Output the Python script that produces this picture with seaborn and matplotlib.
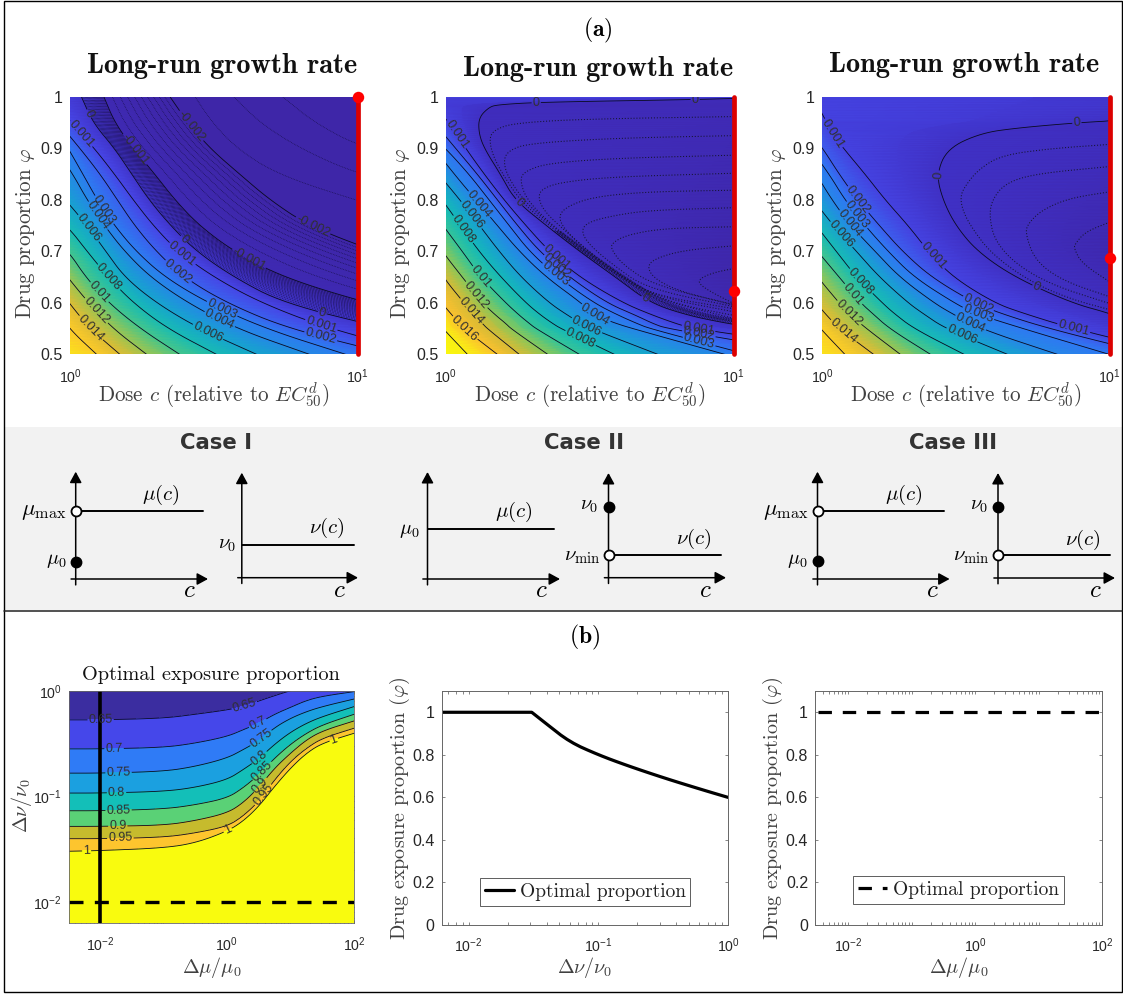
import numpy as np
import matplotlib
matplotlib.use('Agg')
import matplotlib.pyplot as plt
from matplotlib.colors import LinearSegmentedColormap, ListedColormap, BoundaryNorm
from matplotlib.patches import Rectangle
from matplotlib.ticker import FixedLocator, LogLocator, NullFormatter
import seaborn as sns

W, H = 1123, 994

# parula-like colours
parula_stops = [0, .06, .13, .22, .33, .44, .55, .66, .77, .88, 1]
parula_colors = ['#3e26a8', '#4030c4', '#4748e8', '#2f79f3', '#1e96dc', '#10b5c0', '#25c4a5', '#82c95e', '#d6bc36', '#fdc22f', '#f9fb0e']
band_colors = ['#3b2da0', '#4547ea', '#2f7bf6', '#1ba0e0', '#13bfb8', '#5ad176', '#c6bb2d', '#fdc52e', '#f9fb0e']

# ---- panel 1: log10(dose) of each level curve, rows are drug proportion
p1_phi = [1, .95, .9, .85, .8, .75, .7, .65, .6, .55, .5]
p1_020 = [-1.2, -1.1, -1.0, -.9, -.8, -.7, -.6, -.5, -.4, -.3, -.1]
p1_016 = [-.92, -.79, -.67, -.55, -.43, -.32, -.22, -.14, -.065, -.003, .093]
p1_014 = [-.85, -.72, -.6, -.48, -.36, -.25, -.15, -.07, -.003, .07, .174]
p1_012 = [-.78, -.65, -.53, -.41, -.29, -.18, -.08, -.008, .065, .15, .267]
p1_010 = [-.7, -.57, -.45, -.33, -.21, -.1, -.005, .055, .135, .245, .382]
p1_008 = [-.6, -.48, -.36, -.24, -.12, -.01, .06, .133, .22, .34, .51]
p1_006 = [-.5, -.36, -.22, -.1, -.015, .06, .125, .19, .30, .45, .65]
p1_004 = [-.2, -.12, -.05, .01, .06, .12, .19, .28, .41, .58, .834]
p1_003 = [-.12, -.06, -.006, .045, .095, .155, .23, .33, .48, .68, .96]
p1_002 = [-.12, -.04, .035, .105, .165, .225, .30, .395, .545, .76, 1.12]
p1_001 = [-.07, .005, .085, .155, .22, .29, .375, .50, .665, .90, 1.25]
p1_000 = [.04, .08, .155, .215, .275, .35, .44, .57, .74, 1.1, 1.5]
p1_m1 = [.118, .156, .22, .295, .365, .45, .57, .74, 1.03, 1.4, 1.8]
p1_m2 = [.348, .41, .487, .59, .695, .83, 1.06, 1.35, 1.7, 2.1, 2.5]
p1_m25 = [.435, .495, .58, .72, .99, 1.3, 1.7, 2.1, 2.5, 2.9, 3.3]
p1_m30 = [.57, .66, .80, 1.0, 1.35, 1.8, 2.2, 2.6, 3.0, 3.4, 3.8]
p1_m35 = [.74, .85, 1.02, 1.4, 1.85, 2.3, 2.7, 3.1, 3.5, 3.9, 4.3]
p1_m60 = [2.0, 2.2, 2.5, 2.8, 3.2, 3.6, 4.0, 4.4, 4.8, 5.2, 5.6]
p1_curves = [p1_020, p1_016, p1_014, p1_012, p1_010, p1_008, p1_006, p1_004, p1_003, p1_002, p1_001, p1_000, p1_m1, p1_m2, p1_m25, p1_m30, p1_m35, p1_m60]
p1_levels = [.02, .016, .014, .012, .01, .008, .006, .004, .003, .002, .001, 0, -.001, -.002, -.0025, -.003, -.0035, -.006]
p1_solid = [-.002, -.001, 0, .001, .002, .003, .004, .006, .008, .01, .012, .014, .016]
p1_dotted = [-.0035, -.003, -.0025, -.0019, -.0018, -.0017, -.0016, -.0015, -.0014, -.0013, -.0012, -.0011] + [-.00095, -.0009, -.00085, -.0008, -.00075, -.0007, -.00065, -.0006, -.00055, -.0005, -.00045, -.0004, -.00035, -.0003, -.00025, -.0002, -.00015, -.0001, -.00005]
p1_label_u = [.06, .392, .875, .04, .382, .869, .377, .869, .116, .527, .098, .51, .064, .477, .133, .104, .093, .07, .22, .62, .417, .84]
p1_label_phi = [.966, .722, .578, .929, .69, .55, .662, .531, .78, .576, .77, .567, .745, .541, .649, .622, .586, .55, .896, .684, .942, .745]
p1_opt = .9995

# ---- panel 2
p2_phi = [.5, .55, .56, .576, .6, .65, .7, .75, .8, .85, .9, .93, .96, .98, .985, .99, .995, .998, 1]
p2_020 = [-.03, -.1, -.12, -.14, -.16, -.22, -.28, -.33, -.38, -.43, -.5, -.54, -.58, -.62, -.63, -.64, -.65, -.66, -.66]
p2_018 = [.076, -.009, -.021, -.023, -.047, -.087, -.134, -.186, -.238, -.297, -.349, -.39, -.44, -.48, -.49, -.5, -.51, -.515, -.52]
p2_016 = [.18, .064, .047, .023, -.014, -.052, -.099, -.151, -.203, -.262, -.314, -.36, -.41, -.45, -.46, -.47, -.48, -.485, -.49]
p2_014 = [.256, .145, .128, .099, .064, -.009, -.058, -.11, -.163, -.221, -.273, -.32, -.37, -.41, -.42, -.43, -.44, -.445, -.45]
p2_012 = [.355, .227, .209, .174, .128, .058, -.012, -.064, -.116, -.174, -.233, -.28, -.33, -.37, -.38, -.39, -.40, -.405, -.41]
p2_010 = [.465, .314, .291, .256, .209, .122, .058, -.009, -.07, -.128, -.186, -.23, -.28, -.32, -.33, -.34, -.35, -.355, -.36]
p2_008 = [.587, .401, .372, .331, .279, .192, .116, .052, -.012, -.078, -.14, -.19, -.24, -.28, -.29, -.3, -.31, -.315, -.32]
p2_006 = [.738, .506, .471, .424, .36, .262, .186, .118, .05, -.025, -.093, -.14, -.19, -.23, -.24, -.25, -.26, -.265, -.27]
p2_004 = [.971, .651, .593, .517, .471, .349, .256, .18, .105, .03, -.04, -.09, -.14, -.18, -.19, -.2, -.21, -.215, -.22]
p2_003 = [1.05, .71, .665, .60, .515, .39, .291, .221, .151, .081, 0, -.06, -.11, -.15, -.16, -.17, -.18, -.185, -.19]
p2_002 = [1.3, .77, .72, .66, .56, .43, .326, .25, .18, .11, .035, -.01, -.06, -.1, -.11, -.12, -.13, -.135, -.14]
p2_001 = [1.5, .86, .80, .72, .616, .465, .36, .279, .203, .134, .07, .035, -.002, -.04, -.05, -.06, -.07, -.075, -.08]
p2_000 = [1.9, 1.1, .98, .84, .71, .59, .465, .35, .24, .19, .134, .115, .115, .15, .18, .33, .866, 1.05, 1.3]
p2_edge = [2.3, 1.3, 1.12, .93, .775, .63, .50, .375, .26, .195, .139, .12, .12, .155, .19, .36, .9, 1.1, 1.35]
p2_end = [2.6, 1.7, 1.5, 1.2, 1.1, 1.05, 1.1, 1.2, 1.4, 1.6, 1.8, 1.9, 2, 2, 2, 2, 2, 2, 2]
p2_curves = [p2_020, p2_018, p2_016, p2_014, p2_012, p2_010, p2_008, p2_006, p2_004, p2_003, p2_002, p2_001, p2_000, p2_edge, p2_end]
p2_levels = [.02, .018, .016, .014, .012, .01, .008, .006, .004, .003, .002, .001, 0, -.0002, -.0015]
p2_solid = [0, .001, .002, .003, .004, .006, .008, .01, .012, .014, .016, .018]
p2_dotted = [-.00018, -.00016, -.00014, -.00012, -.0001, -.00008, -.00006, -.00004, -.00002]
p2_label_u = [.314, .866, .25, .692, .041, .384, .878, .384, .878, .378, .878, .113, .517, .081, .488, .058, .465, .122, .105, .087, .064]
p2_label_phi = [.99, .995, .793, .608, .929, .687, .552, .67, .538, .654, .521, .79, .576, .767, .554, .742, .528, .651, .615, .583, .55]
p2_opt = .623

# dotted inner contours of panel 2 (log10 dose, proportion)
p2_d1_u = [1, .465, .233, .169, .151, .163, .203, .267, .372, .488, .605, .721, .849, 1]
p2_d1_phi = [.962, .957, .949, .936, .920, .887, .845, .793, .745, .693, .651, .609, .580, .564]
p2_d2_u = [1, .581, .291, .221, .2, .215, .279, .395, .512, .628, .744, 1]
p2_d2_phi = [.925, .920, .910, .897, .878, .845, .793, .738, .687, .644, .606, .570]
p2_d3_u = [1, .581, .349, .273, .258, .279, .349, .465, .581, .698, .814, 1]
p2_d3_phi = [.887, .881, .871, .855, .839, .803, .761, .709, .664, .622, .596, .576]
p2_d4_u = [1, .581, .407, .337, .320, .343, .419, .523, .640, .756, 1]
p2_d4_phi = [.852, .845, .835, .823, .806, .777, .738, .687, .641, .609, .583]
p2_d5_u = [1, .698, .512, .419, .390, .419, .5, .605, .721, 1]
p2_d5_phi = [.819, .816, .806, .787, .767, .738, .699, .654, .615, .589]
p2_d6_u = [1, .698, .558, .488, .471, .5, .581, .698, 1]
p2_d6_phi = [.785, .780, .767, .755, .738, .712, .674, .628, .593]
p2_d7_u = [1, .756, .628, .576, .576, .616, .721, 1]
p2_d7_phi = [.748, .745, .732, .716, .703, .674, .635, .596]
p2_d8_u = [1, .837, .744, .698, .721, .814, 1]
p2_d8_phi = [.711, .703, .690, .674, .648, .622, .597]
p2_d9_u = [1, .93, .884, .878, .919, 1]
p2_d9_phi = [.667, .659, .648, .638, .622, .599]

# ---- panel 3
p3_phi = [.5, .55, .58, .6, .65, .7, .75, .8, .85, .9, .93, .94, .95, .955, 1]
p3_020 = [-.1, -.2, -.26, -.28, -.35, -.41, -.47, -.54, -.62, -.69, -.73, -.74, -.75, -.76, -.86]
p3_016 = [.08, -.005, -.05, -.08, -.15, -.21, -.27, -.34, -.42, -.49, -.53, -.54, -.55, -.56, -.66]
p3_014 = [.18, .06, .01, -.02, -.085, -.15, -.21, -.28, -.36, -.43, -.47, -.485, -.5, -.51, -.61]
p3_012 = [.273, .155, .092, .06, -.015, -.08, -.15, -.22, -.3, -.37, -.41, -.425, -.44, -.45, -.55]
p3_010 = [.378, .235, .175, .135, .06, -.015, -.09, -.16, -.24, -.31, -.35, -.365, -.38, -.39, -.49]
p3_008 = [.495, .32, .25, .21, .12, .05, -.02, -.09, -.17, -.24, -.28, -.295, -.31, -.32, -.42]
p3_006 = [.646, .43, .35, .30, .20, .12, .04, -.03, -.10, -.17, -.21, -.225, -.24, -.25, -.35]
p3_004 = [.82, .55, .45, .39, .27, .185, .10, .035, -.02, -.08, -.12, -.135, -.15, -.16, -.25]
p3_003 = [1.0, .7, .53, .46, .32, .23, .15, .08, .025, -.04, -.08, -.095, -.11, -.12, -.2]
p3_002 = [1.15, .79, .62, .53, .38, .28, .20, .124, .06, .003, -.04, -.055, -.07, -.08, -.15]
p3_001 = [1.25, .874, .70, .60, .455, .37, .30, .22, .15, .075, .035, .025, .018, .012, -.03]
p3_000 = [1.4, 1.15, 1.0, .868, .67, .54, .465, .42, .398, .436, .553, .68, .886, 1.05, 1.5]
p3_end = [2.2, 1.8, 1.6, 1.5, 1.3, 1.12, 1.2, 1.4, 1.7, 2.0, 2.2, 2.3, 2.4, 2.4, 2.6]
p3_curves = [p3_020, p3_016, p3_014, p3_012, p3_010, p3_008, p3_006, p3_004, p3_003, p3_002, p3_001, p3_000, p3_end]
p3_levels = [.02, .016, .014, .012, .01, .008, .006, .004, .003, .002, .001, 0, -.0012]
p3_solid = [0, .001, .002, .003, .004, .006, .008, .01, .012, .014, .016]
p3_label_u = [.886, .398, .743, .037, .384, .874, .124, .541, .119, .541, .096, .516, .065, .485, .133, .104, .092, .071]
p3_label_phi = [.948, .849, .628, .929, .69, .55, .8, .596, .77, .576, .754, .561, .732, .536, .641, .615, .58, .543]
p3_opt = .688

p3_d1_u = [1, .798, .623, .541, .495, .481, .489, .518, .588, .716, .856, 1]
p3_d1_phi = [.908, .900, .887, .858, .825, .806, .780, .748, .696, .644, .609, .587]
p3_d2_u = [1, .740, .635, .590, .582, .600, .670, .798, 1]
p3_d2_phi = [.865, .851, .832, .799, .767, .722, .677, .635, .599]
p3_d3_u = [1, .856, .763, .716, .707, .740, .833, 1]
p3_d3_phi = [.816, .803, .780, .754, .735, .683, .644, .612]
p3_d4_u = [1, .915, .880, .876, .903, 1]
p3_d4_phi = [.757, .738, .715, .706, .677, .641]

# ---- panel b, contour map: log10(dnu/nu0) per log10(dmu/mu0) column
b_logx = [-2.487, -2, -1, -.5, 0, .25, .5, .75, 1, 1.25, 1.5, 2]
b_top = [.3] * 12
b_065 = [-.274, -.274, -.259, -.221, -.18, -.148, -.095, -.044, .003, .04, .06, .095]
b_070 = [-.549, -.549, -.536, -.495, -.432, -.369, -.306, -.22, -.155, -.09, -.05, -.006]
b_075 = [-.779, -.779, -.763, -.716, -.637, -.558, -.473, -.347, -.259, -.196, -.148, -.076]
b_080 = [-.968, -.968, -.953, -.915, -.842, -.748, -.644, -.505, -.391, -.306, -.243, -.148]
b_085 = [-1.136, -1.136, -1.12, -1.08, -1.016, -.921, -.795, -.637, -.505, -.401, -.322, -.221]
b_090 = [-1.284, -1.284, -1.274, -1.23, -1.158, -1.063, -.915, -.732, -.59, -.464, -.379, -.284]
b_095 = [-1.401, -1.401, -1.388, -1.347, -1.284, -1.189, -1.047, -.842, -.669, -.543, -.448, -.353]
b_100 = [-1.52, -1.514, -1.489, -1.442, -1.331, -1.237, -1.095, -.905, -.732, -.59, -.495, -.401]
b_low = [-3] * 12
b_curves = [b_top, b_065, b_070, b_075, b_080, b_085, b_090, b_095, b_100, b_low]
b_levels = [.5, .65, .7, .75, .8, .85, .9, .95, 1, 1.2]
b_label_x = [-1.99, .28, -1.78, .49, -1.71, .54, -1.74, .52, -1.71, .54, -1.72, .52, -1.68, .58, -2.21, .02, 1.7]
b_label_y = [-.284, -.148, -.552, -.315, -.779, -.45, -.978, -.64, -1.142, -.75, -1.284, -.89, -1.404, -.99, -1.52, -1.331, -.495]
b_line_dnu = [.01, .01]
b_line_dmu = [.01, .01]

# ---- panel b, optimal proportion curves
opt_logdnu = [-2.208, -1.513, -1.513, -1.403, -1.22, -1.0, -.78, -.487, -.194, 0]
opt_phi_solid = [1, 1, 1, .947, .86, .80, .75, .69, .635, .60]
opt_dmu = [.0033, 100]
opt_phi_dash = [1, 1]

# ---- schematics: level of the line and of the filled dot on a 0..1 axis
sketch_line = [.638, .315, .464, .214, .638, .217]
sketch_dot = [.162, None, None, .674, .168, .674]
sketch_open = [True, False, False, True, True, True]
sketch_end = [.96, .963, .952, .96, .96, .96]

sns.set_theme(style='white')
plt.rcParams['font.family'] = ['Liberation Sans', 'DejaVu Sans']
plt.rcParams['mathtext.fontset'] = 'cm'
plt.rcParams['axes.unicode_minus'] = False

parula = LinearSegmentedColormap.from_list('parula', list(zip(parula_stops, parula_colors)))
tick_color = '#262626'
label_color = '#404040'

fig = plt.figure(figsize=(W / 100, H / 100), dpi=100)
fig.patch.set_facecolor('white')


def px_axes(x0, y0, x1, y1, **kw):
    return fig.add_axes([x0 / W, 1 - y1 / H, (x1 - x0) / W, (y1 - y0) / H], **kw)


def px_text(x, y, s, **kw):
    kw.setdefault('ha', 'center')
    kw.setdefault('va', 'center')
    return fig.text(x / W, 1 - y / H, s, **kw)


def smooth(a, passes=3):
    # corner cutting along the first axis, only to round the read polylines
    a = np.asarray(a, dtype=float)
    for _ in range(passes):
        q = .75 * a[:-1] + .25 * a[1:]
        r = .25 * a[:-1] + .75 * a[1:]
        mid = np.empty((2 * len(q),) + a.shape[1:])
        mid[0::2] = q
        mid[1::2] = r
        a = np.concatenate([a[:1], mid, a[-1:]])
    return a


def fmt_level(v):
    return f'{round(v, 4):g}'


def growth_panel(box, rows, curves, levels, solid, dotted, label_u, label_phi, vmin, vmax, opt, inner=(), dotted_below=1.0):
    ax = px_axes(*box)
    ax.set_xscale('log')
    ax.set_xlim(1, 10)
    ax.set_ylim(.5, 1)
    u = smooth(np.array(curves, dtype=float).T)
    phi = smooth(np.array(rows, dtype=float))
    X = 10 ** u
    Y = np.tile(phi[:, None], (1, u.shape[1]))
    Z = np.tile(np.array(levels, dtype=float)[None, :], (u.shape[0], 1))
    ax.pcolormesh(X, Y, Z, cmap=parula, vmin=vmin, vmax=vmax, shading='gouraud', rasterized=True)
    if len(dotted):
        dense = ax.contour(X, Y, Z, levels=sorted(dotted), colors='#120c3c', linewidths=.5, alpha=.95, linestyles=[(0, (1, 1.4))])
        dense.set_clip_path(Rectangle((1, .5), 9, dotted_below - .5, transform=ax.transData))
    cs = ax.contour(X, Y, Z, levels=sorted(solid), colors='#0a0a20', linewidths=.6, linestyles='solid')
    manual = list(zip(10 ** np.array(label_u), label_phi))
    ax.clabel(cs, manual=manual, inline=True, inline_spacing=1, fontsize=9.2, fmt=fmt_level, colors='#303030')
    for du, dphi in inner:
        sns.lineplot(x=10 ** smooth(du), y=smooth(dphi), sort=False, estimator=None, errorbar=None, color='#151530', linewidth=.75, linestyle=(0, (1, 1.8)), legend=False, ax=ax)
    # red optimal-dose line and optimum
    sns.lineplot(x=[10, 10], y=[.5, 1], color='#dc0000', linewidth=3.4, estimator=None, errorbar=None, sort=False, ax=ax, legend=False, clip_on=False)
    sns.scatterplot(x=[10], y=[opt], color='#ff0000', s=68, linewidth=0, ax=ax, legend=False, clip_on=False, zorder=6)
    ax.set_xticks([1, 10], labels=[r'$\mathregular{10^{0}}$', r'$\mathregular{10^{1}}$'])
    ax.xaxis.set_minor_locator(plt.NullLocator())
    ax.set_yticks([.5, .6, .7, .8, .9, 1], labels=['0.5', '0.6', '0.7', '0.8', '0.9', '1'])
    ax.tick_params(axis='both', length=0, labelsize=11.5, colors=tick_color, pad=5)
    ax.tick_params(axis='x', pad=9, labelsize=10.2)
    ax.set_xlabel('')
    ax.set_ylabel('')
    for s in ax.spines.values():
        s.set_visible(False)
    return ax


def log_ticks(axis, majors):
    axis.set_major_locator(FixedLocator(majors))
    axis.set_minor_locator(LogLocator(base=10, subs=np.arange(1, 10), numticks=40))
    axis.set_minor_formatter(NullFormatter())


def sketch(box, line, dot, hollow, end):
    ax = px_axes(*box)
    ax.set_xlim(0, 1)
    ax.set_ylim(0, 1)
    ax.axis('off')
    ax.patch.set_alpha(0)
    arrow = dict(arrowstyle='-|>,head_length=.55,head_width=.3', color='black', lw=1.1, shrinkA=0, shrinkB=0, mutation_scale=12)
    ax.annotate('', xy=(0, 1), xytext=(0, -.055), arrowprops=arrow, annotation_clip=False)
    ax.annotate('', xy=(1, 0), xytext=(-.035, 0), arrowprops=arrow, annotation_clip=False)
    sns.lineplot(x=[0, end], y=[line, line], color='black', linewidth=1.4, estimator=None, errorbar=None, sort=False, ax=ax, legend=False)
    if hollow:
        ax.plot([0], [line], 'o', mfc='white', mec='black', mew=1.3, ms=7.2, clip_on=False, zorder=5)
    if dot is not None:
        ax.plot([0], [dot], 'o', mfc='black', mec='black', ms=7.5, clip_on=False, zorder=5)
    return ax


# frame and grey band
frame = fig.add_axes([0, 0, 1, 1], zorder=-1)
frame.set_xlim(0, W)
frame.set_ylim(H, 0)
frame.axis('off')
frame.add_patch(Rectangle((4, 427), 1118, 183, fc='#f2f2f2', ec='none'))
frame.add_patch(Rectangle((4, 1), 1118, 991, fc='none', ec='black', lw=1))
frame.plot([4, 1122], [610.5, 610.5], color='#222222', lw=1.1)

px_text(598, 30, r'$(\mathbf{a})$', fontsize=17, color='black')
px_text(585, 637, r'$(\mathbf{b})$', fontsize=17, color='black')

# top row
growth_panel((70, 97, 357.7, 354.5), p1_phi, p1_curves, p1_levels, p1_solid, p1_dotted, p1_label_u, p1_label_phi, -.0015, .018, p1_opt)
growth_panel((445.7, 97, 733.7, 354.5), p2_phi, p2_curves, p2_levels, p2_solid, p2_dotted, p2_label_u, p2_label_phi, -.0012, .0185, p2_opt,
             inner=[(p2_d1_u, p2_d1_phi), (p2_d2_u, p2_d2_phi), (p2_d3_u, p2_d3_phi), (p2_d4_u, p2_d4_phi), (p2_d5_u, p2_d5_phi),
                    (p2_d6_u, p2_d6_phi), (p2_d7_u, p2_d7_phi), (p2_d8_u, p2_d8_phi), (p2_d9_u, p2_d9_phi)], dotted_below=.74)
growth_panel((822, 97, 1109.7, 354.5), p3_phi, p3_curves, p3_levels, p3_solid, [], p3_label_u, p3_label_phi, -.0012, .0178, p3_opt,
             inner=[(p3_d1_u, p3_d1_phi), (p3_d2_u, p3_d2_phi), (p3_d3_u, p3_d3_phi), (p3_d4_u, p3_d4_phi)])

title_kw = dict(fontsize=20.4, family='cmb10', color='#111111')
for tx, ty in [(222, 66), (598, 69), (964, 65)]:
    px_text(tx, ty, 'Long-run growth rate', **title_kw)
for lx, ly, xx in [(26, 233, 214), (401, 233, 590), (777, 233, 966)]:
    px_text(lx, ly, r'Drug proportion $\varphi$', fontsize=15.1, family='cmr10', color=label_color, rotation=90)
    px_text(xx, 396, r'Dose $c$ (relative to $EC_{50}^{d}$)', fontsize=15.2, family='cmr10', color=label_color)

# schematics
sketch((75.7, 471.7, 208, 579), sketch_line[0], sketch_dot[0], sketch_open[0], sketch_end[0])
sketch((241.8, 472.7, 358, 577.7), sketch_line[1], sketch_dot[1], sketch_open[1], sketch_end[1])
sketch((427.5, 472, 560, 579), sketch_line[2], sketch_dot[2], sketch_open[2], sketch_end[2])
sketch((608.5, 473, 726, 577.7), sketch_line[3], sketch_dot[3], sketch_open[3], sketch_end[3])
sketch((817.5, 471.7, 949.6, 579), sketch_line[4], sketch_dot[4], sketch_open[4], sketch_end[4])
sketch((998, 473, 1115, 578), sketch_line[5], sketch_dot[5], sketch_open[5], sketch_end[5])

case_kw = dict(fontsize=15.3, fontweight='bold', family='DejaVu Sans', color='#333333')
px_text(216, 443, 'Case I', **case_kw)
px_text(584, 443, 'Case II', **case_kw)
px_text(953, 443, 'Case III', **case_kw)

for tx, ty, s, ha, fs in [
    (66, 510, r'$\mu_{\mathrm{max}}$', 'right', 16.5), (67, 561, r'$\mu_0$', 'right', 14.5), (161, 495, r'$\mu(c)$', 'center', 15), (189, 590, r'$c$', 'center', 18),
    (236, 544, r'$\nu_0$', 'right', 14.5), (327, 528, r'$\nu(c)$', 'center', 15), (339, 590, r'$c$', 'center', 18),
    (420, 530, r'$\mu_0$', 'right', 14.5), (514, 512, r'$\mu(c)$', 'center', 15), (541, 590, r'$c$', 'center', 18),
    (598, 505, r'$\nu_0$', 'right', 14.5), (600, 556, r'$\nu_{\mathrm{min}}$', 'right', 15), (694, 539, r'$\nu(c)$', 'center', 15), (705, 590, r'$c$', 'center', 18),
    (808, 510, r'$\mu_{\mathrm{max}}$', 'right', 16.5), (808, 561, r'$\mu_0$', 'right', 14.5), (904, 495, r'$\mu(c)$', 'center', 15), (932, 590, r'$c$', 'center', 18),
    (988, 505, r'$\nu_0$', 'right', 14.5), (989, 556, r'$\nu_{\mathrm{min}}$', 'right', 15), (1083, 540, r'$\nu(c)$', 'center', 15), (1095, 590, r'$c$', 'center', 18),
]:
    px_text(tx, ty, s, ha=ha, fontsize=fs, color='black')

# bottom left contour map
ax = px_axes(69, 691, 354, 923)
ax.set_xscale('log')
ax.set_yscale('log')
ax.set_xlim(10 ** b_logx[0], 100)
ax.set_ylim(.0063, 1)
bu = smooth(np.tile(np.array(b_logx)[:, None], (1, len(b_curves))))
bv = smooth(np.array(b_curves, dtype=float).T)
BZ = np.tile(np.array(b_levels)[None, :], (bu.shape[0], 1))
ax.contourf(10 ** bu, 10 ** bv, BZ, levels=[.4, .65, .7, .75, .8, .85, .9, .95, .99999, 1.3],
            cmap=ListedColormap(band_colors), norm=BoundaryNorm([.4, .65, .7, .75, .8, .85, .9, .95, .99999, 1.3], 9), antialiased=False)
bcs = ax.contour(10 ** bu, 10 ** bv, BZ, levels=[.65, .7, .75, .8, .85, .9, .95, 1], colors='#0a0a20', linewidths=.6)
ax.clabel(bcs, manual=list(zip(10 ** np.array(b_label_x), 10 ** np.array(b_label_y))), inline=True, inline_spacing=1, fontsize=9, fmt=fmt_level, colors='#303030')
sns.lineplot(x=b_line_dmu, y=[.0063, 1], color='black', linewidth=2.6, estimator=None, errorbar=None, sort=False, ax=ax, legend=False)
sns.lineplot(x=[10 ** b_logx[0], 100], y=b_line_dnu, color='black', linewidth=2.4, linestyle=(0, (4.2, 3.4)), estimator=None, errorbar=None, sort=False, ax=ax, legend=False)
log_ticks(ax.xaxis, [.01, 1, 100])
log_ticks(ax.yaxis, [.01, .1, 1])
ax.set_xticklabels([r'$\mathregular{10^{-2}}$', r'$\mathregular{10^{0}}$', r'$\mathregular{10^{2}}$'])
ax.set_yticklabels([r'$\mathregular{10^{-2}}$', r'$\mathregular{10^{-1}}$', r'$\mathregular{10^{0}}$'])
ax.tick_params(which='both', direction='in', top=True, right=True, bottom=True, left=True, color='#555555', width=.5, length=2.2, labelcolor=tick_color, labelsize=10.2, pad=5)
ax.tick_params(axis='x', which='both', pad=9)
ax.set_xlabel('')
ax.set_ylabel('')
for s in ax.spines.values():
    s.set_color('#666666')
    s.set_linewidth(.6)
px_text(211, 675, 'Optimal exposure proportion', fontsize=14.6, family='cmr10', color='#111111')
px_text(212, 967, r'$\Delta\mu/\mu_0$', fontsize=14.5, color=label_color)
px_text(21, 805, r'$\Delta\nu/\nu_0$', fontsize=14.5, color=label_color, rotation=90)

# bottom right line plots
for box, kind in [((441.6, 691, 728, 925), 'solid'), ((815, 691, 1102, 925), 'dash')]:
    ax = px_axes(*box)
    ax.set_xscale('log')
    if kind == 'solid':
        sns.lineplot(x=10 ** smooth(opt_logdnu, 2), y=smooth(opt_phi_solid, 2), color='black', linewidth=2.3, estimator=None, errorbar=None, sort=False, ax=ax, label='Optimal proportion')
        ax.set_xlim(10 ** -2.208, 1)
        log_ticks(ax.xaxis, [.01, .1, 1])
        ax.set_xticklabels([r'$\mathregular{10^{-2}}$', r'$\mathregular{10^{-1}}$', r'$\mathregular{10^{0}}$'])
        anchor = (.133, .081)
    else:
        sns.lineplot(x=opt_dmu, y=opt_phi_dash, color='black', linewidth=2.3, linestyle=(0, (4.2, 3.4)), estimator=None, errorbar=None, sort=False, ax=ax, label='Optimal proportion')
        ax.set_xlim(.003, 100)
        log_ticks(ax.xaxis, [.01, 1, 100])
        ax.set_xticklabels([r'$\mathregular{10^{-2}}$', r'$\mathregular{10^{0}}$', r'$\mathregular{10^{2}}$'])
        anchor = (.133, .09)
    ax.set_ylim(0, 1.1)
    ax.set_yticks([0, .2, .4, .6, .8, 1], labels=['0', '0.2', '0.4', '0.6', '0.8', '1'])
    ax.tick_params(which='both', direction='in', top=True, right=True, bottom=True, left=True, color='#555555', width=.5, length=2.2, labelcolor=tick_color, labelsize=11.5, pad=5)
    ax.tick_params(axis='x', which='both', pad=8, labelsize=10.2)
    ax.set_xlabel('')
    ax.set_ylabel('')
    for s in ax.spines.values():
        s.set_color('#666666')
        s.set_linewidth(.7)
    leg = ax.legend(loc='lower left', bbox_to_anchor=anchor, fancybox=False, framealpha=1, edgecolor='#444444',
                    prop={'family': 'cmr10', 'size': 14}, handlelength=1.5, handletextpad=.3, borderpad=.25, borderaxespad=0)
    leg.get_frame().set_linewidth(.6)
    for t in leg.get_texts():
        t.set_color('#222222')

for lx, xx, s in [(400, 585, r'$\Delta\nu/\nu_0$'), (773, 959, r'$\Delta\mu/\mu_0$')]:
    px_text(lx, 808, r'Drug exposure proportion ($\varphi$)', fontsize=14.5, family='cmr10', color=label_color, rotation=90)
    px_text(xx, 967, s, fontsize=14.5, color=label_color)

fig.savefig('out.png', dpi=100)
